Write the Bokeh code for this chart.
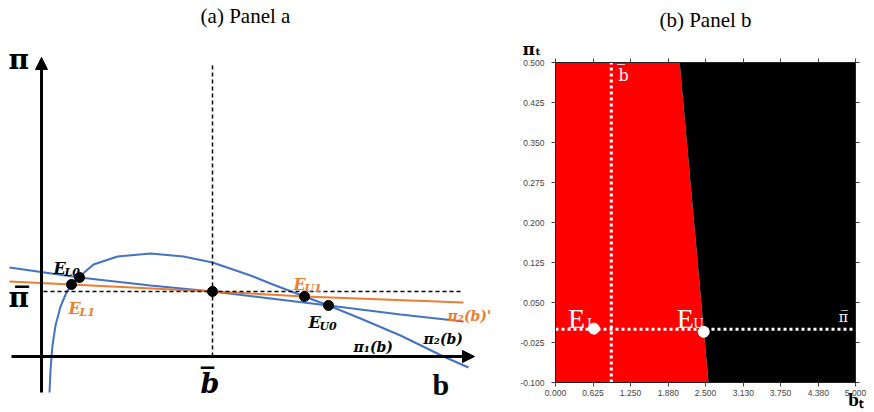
from bokeh.plotting import figure
from bokeh.layouts import row
from bokeh.models import Range1d, Arrow, NormalHead, Title, FixedTicker, NumeralTickFormatter, LinearAxis
from bokeh.core.properties import value
from bokeh.embed import file_html
from bokeh.resources import INLINE

# ---------------- Panel a (schematic) data ----------------
pi1_b = [0.08, 0.09, 0.10, 0.11, 0.14, 0.19, 0.25, 0.30, 0.38, 0.52, 0.76, 1.09, 1.42, 1.71, 2.09, 2.34, 2.63, 2.87, 3.19, 3.59, 4.02, 4.27]
pi1_v = [-0.36, -0.14, 0.0, 0.11, 0.31, 0.50, 0.64, 0.72, 0.80, 0.92, 1.00, 1.03, 1.00, 0.94, 0.81, 0.71, 0.60, 0.51, 0.38, 0.21, 0.0, -0.11]
pi2_b = [-0.32, 0.38, 1.09, 1.71, 2.29, 2.87, 3.59, 4.22]
pi2_v = [0.89, 0.79, 0.71, 0.65, 0.58, 0.51, 0.42, 0.35]
pi2p_b = [-0.32, 0.30, 1.71, 2.63, 4.22]
pi2p_v = [0.75, 0.72, 0.65, 0.60, 0.54]
eq_b = [0.38, 0.30, 1.71, 2.63, 2.87]
eq_v = [0.79, 0.72, 0.65, 0.60, 0.51]
b_bar_a = 1.71
pi_bar_a = 0.65

# ---------------- Panel b data ----------------
b_ticks = [0.0, 0.625, 1.25, 1.88, 2.5, 3.13, 3.75, 4.38, 5.0]
pi_ticks = [-0.1, -0.025, 0.05, 0.125, 0.2, 0.275, 0.35, 0.425, 0.5]
boundary_pi = [-0.1, -0.025, 0.05, 0.2, 0.35, 0.5]
boundary_b = [2.55, 2.49, 2.43, 2.31, 2.19, 2.07]
b_bar_b = 0.93
pi_bar_b = 0.0
E_b = [0.64, 2.47]
E_pi = [0.001, -0.005]

BLUE = "#4472C4"
ORANGE = "#ED7D31"
SERIF = "DejaVu Serif"
TIMES = "Liberation Serif"

# ======== Panel a ========
p1 = figure(width=490, height=412, x_range=Range1d(-0.41, 4.49), y_range=Range1d(-0.56, 3.56),
            output_backend="svg", toolbar_location=None, x_axis_type=None, y_axis_type=None,
            min_border=0)
p1.frame_align = False
p1.grid.visible = False
p1.outline_line_color = None

p1.line(pi1_b, pi1_v, line_color=BLUE, line_width=2)
p1.line(pi2_b, pi2_v, line_color=BLUE, line_width=2)
p1.line(pi2p_b, pi2p_v, line_color=ORANGE, line_width=2)
p1.line([0.02, 4.22], [pi_bar_a, pi_bar_a], line_color="black", line_width=1.5, line_dash="4 3")
p1.line([b_bar_a, b_bar_a], [0, 2.92], line_color="black", line_width=1.5, line_dash="4 3")

p1.add_layout(Arrow(end=NormalHead(size=12, fill_color="black", line_color="black"),
                    x_start=0, y_start=-0.36, x_end=0, y_end=2.99, line_width=3, line_color="black"))
p1.add_layout(Arrow(end=NormalHead(size=12, fill_color="black", line_color="black"),
                    x_start=-0.30, y_start=0, x_end=4.33, y_end=0, line_width=3, line_color="black"))

p1.scatter(eq_b, eq_v, size=10, color="black")


def sublab(p, x, y, main, sub, color, size=16, subsize=11, dx=11, dy=4, font=SERIF, style="bold italic"):
    p.text(x=[x], y=[y], text=[main], text_font=value(font), text_font_style=style,
           text_font_size=f"{size}px", text_color=color, text_baseline="alphabetic", text_align="left")
    p.text(x=[x], y=[y], text=[sub], text_font=value(font), text_font_style=style,
           text_font_size=f"{subsize}px", text_color=color, text_baseline="alphabetic", text_align="left",
           x_offset=dx, y_offset=dy)


sublab(p1, 0.12, 0.88, "E", "L0", "black")
sublab(p1, 0.27, 0.48, "E", "L1", ORANGE)
sublab(p1, 2.52, 0.72, "E", "U1", ORANGE)
sublab(p1, 2.67, 0.34, "E", "U0", "black")

for (x, y, t, c) in [(4.06, 0.41, "π₂(b)'", ORANGE), (3.82, 0.18, "π₂(b)", "black"), (3.12, 0.10, "π₁(b)", "black")]:
    p1.text(x=[x], y=[y], text=[t], text_font=value(SERIF), text_font_style="bold italic",
            text_font_size="14px", text_color=c, text_baseline="alphabetic", text_align="left")

p1.text(x=[-0.33], y=[2.97], text=["π"], text_font=value(SERIF), text_font_style="bold",
        text_font_size="28px", text_color="black", text_baseline="alphabetic")
p1.text(x=[-0.33], y=[0.59], text=["π\u0305"], text_font=value(SERIF), text_font_style="bold",
        text_font_size="28px", text_color="black", text_baseline="alphabetic")
p1.text(x=[1.59], y=[-0.27], text=["b\u0305"], text_font=value(SERIF), text_font_style="bold italic",
        text_font_size="27px", text_color="black", text_baseline="alphabetic")
p1.text(x=[3.91], y=[-0.28], text=["b"], text_font=value(TIMES), text_font_style="bold",
        text_font_size="30px", text_color="black", text_baseline="alphabetic")
p1.text(x=[2.04], y=[3.41], text=["(a) Panel a"], text_font=value(TIMES), text_font_size="21px",
        text_color="black", text_baseline="middle", text_align="center")

# ======== Panel b ========
p2 = figure(width=384, height=412, x_range=Range1d(0, 5), y_range=Range1d(-0.1, 0.5),
            output_backend="svg", toolbar_location=None,
            min_border_left=65, min_border_right=19, min_border_top=62, min_border_bottom=30)
p2.frame_align = False
p2.grid.visible = False
p2.outline_line_color = "#222222"
n = len(boundary_pi)
p2.harea(y=boundary_pi, x1=[0.0] * n, x2=boundary_b, fill_color="#FF0000")
p2.harea(y=boundary_pi, x1=boundary_b, x2=[5.0] * n, fill_color="black")
p2.line([0, 5], [pi_bar_b, pi_bar_b], line_color="white", line_width=3, line_dash="3 3")
p2.line([b_bar_b, b_bar_b], [-0.1, 0.5], line_color="white", line_width=3, line_dash="3 3")
p2.scatter(E_b, E_pi, size=11, color="white")

p2.text(x=[0.21], y=[0.02], text=["E"], text_font=value(TIMES), text_font_size="28px",
        text_color="white", text_baseline="alphabetic")
p2.text(x=[0.53], y=[0.02], text=["L"], text_font=value(TIMES), text_font_size="14px",
        text_color="white", text_baseline="alphabetic", y_offset=5)
p2.text(x=[2.02], y=[0.02], text=["E"], text_font=value(TIMES), text_font_size="28px",
        text_color="white", text_baseline="alphabetic")
p2.text(x=[2.30], y=[0.02], text=["U"], text_font=value(TIMES), text_font_size="14px",
        text_color="white", text_baseline="alphabetic", y_offset=5)
p2.text(x=[4.72], y=[0.022], text=["π\u0305"], text_font=value(SERIF), text_font_size="14px",
        text_color="white", text_baseline="middle")
p2.text(x=[1.05], y=[0.476], text=["b\u0305"], text_font=value(SERIF), text_font_size="16px",
        text_color="white", text_baseline="middle")

for ax in (p2.xaxis[0], p2.yaxis[0]):
    ax.major_tick_out = 4
    ax.major_tick_in = 0
    ax.minor_tick_line_color = None
    ax.major_label_text_font = "Liberation Sans"
    ax.major_label_text_font_size = "8.5px"
    ax.major_label_text_color = "#444444"
    ax.axis_line_color = "#222222"
    ax.major_tick_line_color = "#444444"
    ax.formatter = NumeralTickFormatter(format="0.000")
p2.xaxis[0].ticker = FixedTicker(ticks=b_ticks)
p2.yaxis[0].ticker = FixedTicker(ticks=pi_ticks)
p2.yaxis[0].major_label_standoff = 7
p2.xaxis[0].major_label_standoff = 3

xa = p2.xaxis[0]
xa.axis_label = "bₜ"
xa.axis_label_text_font = TIMES
xa.axis_label_text_font_style = "bold"
xa.axis_label_text_font_size = "19px"
xa.axis_label_text_color = "black"
xa.axis_label_standoff = -10
if "axis_label_align" in xa.properties():
    xa.axis_label_align = "end"

top = LinearAxis(ticker=FixedTicker(ticks=b_ticks), major_label_overrides={t: "" for t in b_ticks},
                 major_tick_out=4, major_tick_in=0, minor_tick_line_color=None,
                 axis_line_color="#222222", major_tick_line_color="#444444", major_label_standoff=0)
right = LinearAxis(ticker=FixedTicker(ticks=pi_ticks), major_label_overrides={t: "" for t in pi_ticks},
                   major_tick_out=4, major_tick_in=0, minor_tick_line_color=None,
                   axis_line_color="#222222", major_tick_line_color="#444444", major_label_standoff=0)
p2.add_layout(top, "above")
p2.add_layout(right, "right")

pt = Title(text="πₜ", align="left", offset=-33, text_font=SERIF, text_font_style="bold",
           text_font_size="17px", text_color="black", standoff=0)
p2.add_layout(pt, "above")

p2.title.text = "(b) Panel b"
p2.title.align = "center"
p2.title.offset = -5
p2.title.text_font = TIMES
p2.title.text_font_size = "21px"
p2.title.text_font_style = "normal"
p2.title.text_color = "black"

layout = row(p1, p2)
open("out.html", "w").write(file_html(layout, INLINE))
